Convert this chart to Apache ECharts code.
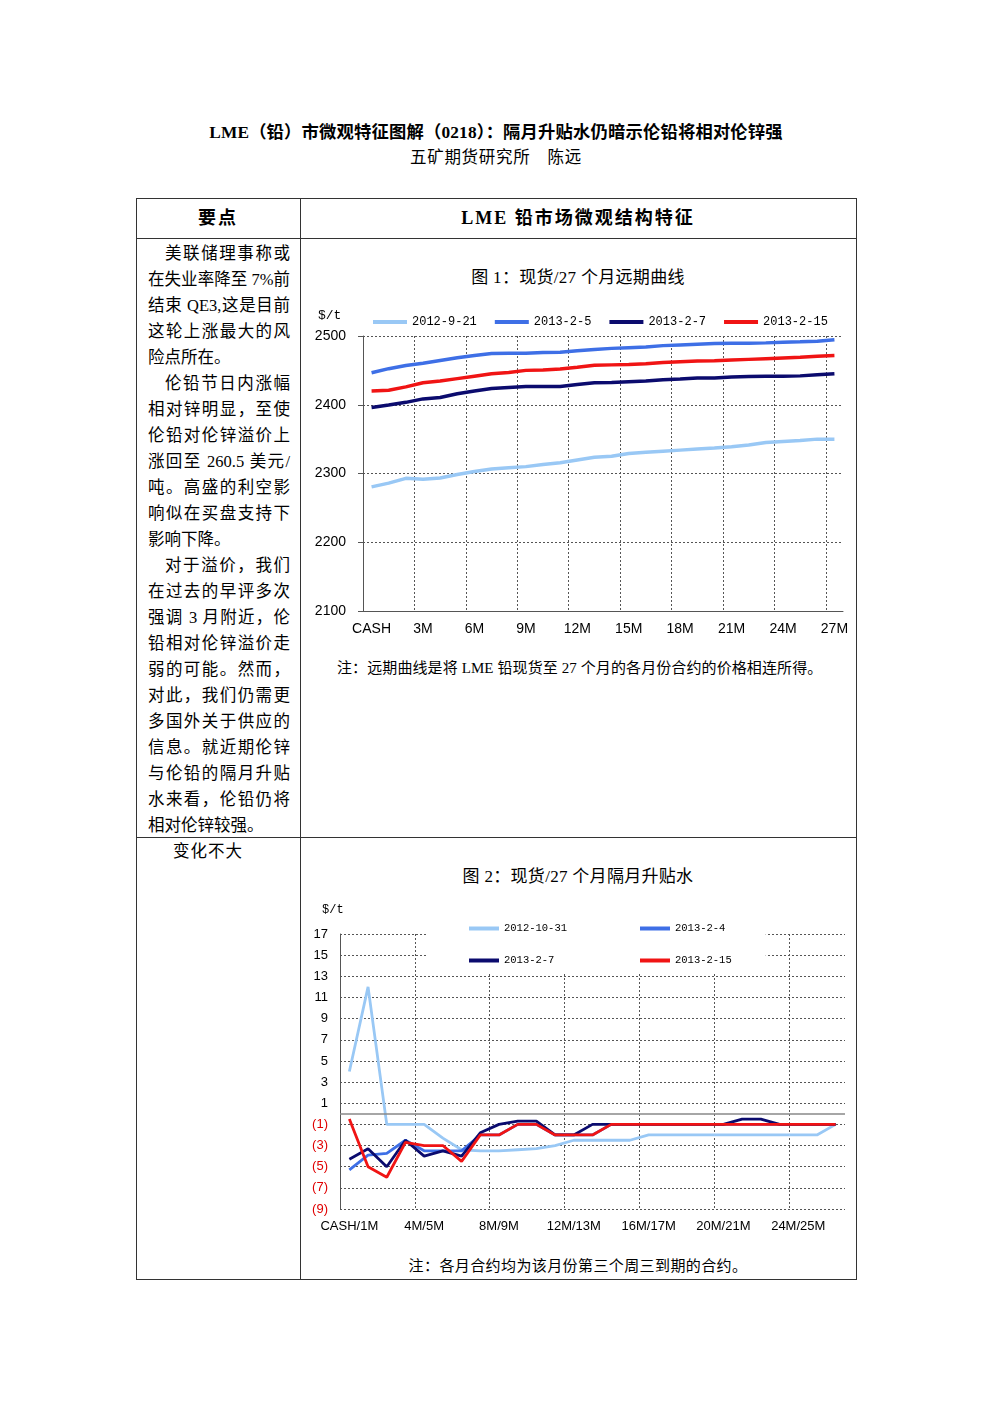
<!DOCTYPE html>
<html lang="zh">
  <head>
    <meta charset="UTF-8" />
    <script src="https://cdn.jsdelivr.net/npm/echarts@6/dist/echarts.min.js"></script>
    <title>LME 铅市场微观结构特征</title>
    <style>
      html,
      body {
        margin: 0;
        padding: 0;
        background: #fff;
      }
      #page {
        position: relative;
        width: 992px;
        height: 1403px;
        overflow: hidden;
        font-family: "Liberation Serif", "Noto Sans CJK SC", serif;
        color: #000;
      }
      .t {
        position: absolute;
        white-space: nowrap;
      }
      .box {
        position: absolute;
        background: #333;
      }
      .ln {
        width: 142px;
        height: 26px;
        line-height: 26px;
        font-size: 16.5px;
        text-align: justify;
        text-align-last: justify;
        white-space: nowrap;
      }
      .ln.first {
        text-indent: 17px;
      }
      .ln.end {
        text-align-last: left;
      }
      .chart {
        position: absolute;
        width: 556px;
        height: 350px;
      }
    </style>
  </head>
  <body>
    <div id="page">
      <div class="t" style="left:0;width:992px;top:122px;text-align:center;font-size:17.3px;letter-spacing:0.2px;font-weight:bold;line-height:22px;">
        LME（铅）市微观特征图解（0218）：隔月升贴水仍暗示伦铅将相对伦锌强
      </div>
      <div class="t" style="left:0;width:992px;top:147px;text-align:center;font-size:16.5px;letter-spacing:0.7px;line-height:22px;">
        五矿期货研究所　陈远
      </div>

      <!-- table frame -->
      <div class="box" style="left:136px;top:198px;width:720px;height:1px;"></div>
      <div class="box" style="left:136px;top:238px;width:720px;height:1px;"></div>
      <div class="box" style="left:136px;top:837px;width:720px;height:1px;"></div>
      <div class="box" style="left:136px;top:1279px;width:721px;height:1px;"></div>
      <div class="box" style="left:136px;top:198px;width:1px;height:1081px;"></div>
      <div class="box" style="left:300px;top:198px;width:1px;height:1081px;"></div>
      <div class="box" style="left:856px;top:198px;width:1px;height:1081px;"></div>

      <div class="t" style="left:136px;width:164px;top:206px;text-align:center;font-size:18px;font-weight:bold;letter-spacing:2px;line-height:24px;">要点</div>
      <div class="t" style="left:300px;width:556px;top:206px;text-align:center;font-size:18px;font-weight:bold;letter-spacing:2px;line-height:24px;">LME 铅市场微观结构特征</div>

      <div class="t" style="left:148px;top:241px;">
        <div class="ln first">美联储理事称或</div>
        <div class="ln">在失业率降至 7%前</div>
        <div class="ln">结束 QE3,这是目前</div>
        <div class="ln">这轮上涨最大的风</div>
        <div class="ln end">险点所在。</div>
        <div class="ln first">伦铅节日内涨幅</div>
        <div class="ln">相对锌明显，至使</div>
        <div class="ln">伦铅对伦锌溢价上</div>
        <div class="ln">涨回至 260.5 美元/</div>
        <div class="ln">吨。高盛的利空影</div>
        <div class="ln">响似在买盘支持下</div>
        <div class="ln end">影响下降。</div>
        <div class="ln first">对于溢价，我们</div>
        <div class="ln">在过去的早评多次</div>
        <div class="ln">强调 3 月附近，伦</div>
        <div class="ln">铅相对伦锌溢价走</div>
        <div class="ln">弱的可能。然而，</div>
        <div class="ln">对此，我们仍需更</div>
        <div class="ln">多国外关于供应的</div>
        <div class="ln">信息。就近期伦锌</div>
        <div class="ln">与伦铅的隔月升贴</div>
        <div class="ln">水来看，伦铅仍将</div>
        <div class="ln end">相对伦锌较强。</div>
      </div>
      <div class="t" style="left:173px;top:840px;font-size:16.5px;letter-spacing:1px;line-height:24px;">变化不大</div>

      <div class="t" style="left:300px;width:556px;top:267px;text-align:center;font-size:17px;letter-spacing:0.3px;line-height:22px;">图 1：现货/27 个月远期曲线</div>
      <div id="chart1" class="chart" style="left:300px;top:295px;"></div>
      <div class="t" style="left:337px;top:658px;font-size:15px;letter-spacing:0.1px;line-height:20px;">注：远期曲线是将 LME 铅现货至 27 个月的各月份合约的价格相连所得。</div>

      <div class="t" style="left:300px;width:556px;top:866px;text-align:center;font-size:17px;letter-spacing:0.3px;line-height:22px;">图 2：现货/27 个月隔月升贴水</div>
      <div id="chart2" class="chart" style="left:300px;top:895px;"></div>
      <div class="t" style="left:300px;width:556px;top:1256px;text-align:center;font-size:15px;letter-spacing:0.4px;line-height:20px;">注：各月合约均为该月份第三个周三到期的合约。</div>
    </div>

    <script>
      // 图1 远期曲线
      const fwdCats = [
        "CASH", "1M", "2M", "3M", "4M", "5M", "6M", "7M", "8M", "9M",
        "10M", "11M", "12M", "13M", "14M", "15M", "16M", "17M", "18M", "19M",
        "20M", "21M", "22M", "23M", "24M", "25M", "26M", "27M",
      ];
      const fwdNames = ["2012-9-21", "2013-2-5", "2013-2-7", "2013-2-15"];
      const fwd20120921 = [
        2280.5, 2286, 2293, 2291.5, 2293.5, 2298.5, 2303, 2306.5, 2308.5, 2310,
        2313, 2315.5, 2319.5, 2323.5, 2325, 2329, 2331, 2332.5, 2334, 2335.5,
        2337, 2339, 2341.5, 2345, 2346.5, 2348, 2350, 2350,
      ];
      const fwd20130205 = [
        2446.5, 2452.5, 2457, 2460.5, 2464.5, 2468.5, 2471.5, 2474.5, 2475, 2475,
        2476, 2476.5, 2478.5, 2480.5, 2482, 2483, 2484, 2486, 2487, 2488,
        2489, 2489.5, 2489.5, 2490, 2491, 2491.5, 2492.5, 2494.5,
      ];
      const fwd20130207 = [
        2396, 2399.5, 2403.5, 2408.5, 2410.5, 2416, 2420, 2423.5, 2425, 2426.5,
        2426.5, 2426.5, 2429.5, 2432, 2432.5, 2433.5, 2434.5, 2436.5, 2437.5, 2439,
        2439, 2440.5, 2441, 2441.5, 2441.5, 2442, 2443.5, 2445,
      ];
      const fwd20130215 = [
        2420, 2421, 2426, 2432, 2434.5, 2438, 2441.5, 2445, 2447, 2450,
        2450.5, 2452, 2454.5, 2457.5, 2458, 2458.5, 2459.5, 2461.5, 2462.5, 2463.5,
        2464, 2465, 2466, 2467, 2468, 2469, 2470.5, 2471.5,
      ];

      // 图2 隔月升贴水
      const sprCats = [
        "CASH/1M", "1M/2M", "2M/3M", "3M/4M", "4M/5M", "5M/6M", "6M/7M", "7M/8M", "8M/9M",
        "9M/10M", "10M/11M", "11M/12M", "12M/13M", "13M/14M", "14M/15M", "15M/16M", "16M/17M",
        "17M/18M", "18M/19M", "19M/20M", "20M/21M", "21M/22M", "22M/23M", "23M/24M", "24M/25M",
        "25M/26M", "26M/27M",
      ];
      const sprNames = ["2012-10-31", "2013-2-4", "2013-2-7", "2013-2-15"];
      const spr20121031 = [
        4, 12, -1, -1, -1, -2.3, -3.4, -3.5, -3.5, -3.4, -3.3, -3, -2.5, -2.5,
        -2.5, -2.5, -2, -2, -2, -2, -2, -2, -2, -2, -2, -2, -1,
      ];
      const spr20130204 = [
        -5.3, -3.9, -3.75, -2.5, -3.5, -3.5, -3.5, -2, -2, -1, -1, -2, -2, -2,
        -1, -1, -1, -1, -1, -1, -1, -1, -1, -1, -1, -1, -1,
      ];
      const spr20130207 = [
        -4.3, -3.3, -5, -2.5, -4, -3.5, -4, -1.8, -1, -0.7, -0.7, -2, -2, -1,
        -1, -1, -1, -1, -1, -1, -1, -0.5, -0.5, -1, -1, -1, -1,
      ];
      const spr20130215 = [
        -0.5, -5, -6, -2.7, -3, -3, -4.5, -2, -2, -1, -1, -2, -2, -2,
        -1, -1, -1, -1, -1, -1, -1, -1, -1, -1, -1, -1, -1,
      ];

      const colors = ["#99c8f5", "#3e6fe6", "#0b0b6e", "#f01414"];
      const axisFont = { fontFamily: "Liberation Sans", color: "#000" };
      const hidden = "rgba(0,0,0,0)";

      function gridLine() {
        return { color: "#555", width: 1, type: [2, 2] };
      }

      function lineSeries(name, data, i, width) {
        return {
          name: name,
          type: "line",
          data: data,
          showSymbol: false,
          symbol: "none",
          smooth: false,
          lineStyle: { color: colors[i], width: width },
          itemStyle: { color: colors[i] },
        };
      }

      const chart1 = echarts.init(document.getElementById("chart1"));
      chart1.setOption({
        animation: false,
        grid: { left: 63, right: 13, top: 41, bottom: 34 },
        graphic: [
          {
            type: "text",
            left: 18,
            top: 14,
            style: { text: "$/t", font: "13px 'Liberation Mono'", fill: "#000" },
          },
        ],
        legend: {
          left: 68,
          top: 16,
          icon: "rect",
          itemWidth: 34,
          itemHeight: 4,
          itemGap: 18,
          textStyle: { fontFamily: "Liberation Mono", fontSize: 12, color: "#000" },
          data: fwdNames,
        },
        xAxis: {
          type: "category",
          data: fwdCats,
          boundaryGap: true,
          axisLine: { lineStyle: { color: "#555", width: 1 } },
          axisTick: { interval: 2, length: 5, lineStyle: { color: "#555" } },
          axisLabel: Object.assign({ interval: 2, margin: 11, fontSize: 14 }, axisFont),
          splitLine: { show: true, interval: 2, showMaxLine: false, lineStyle: gridLine() },
        },
        yAxis: {
          type: "value",
          min: 2100,
          max: 2500,
          interval: 100,
          axisLine: { show: true, lineStyle: { color: "#555", width: 1 } },
          axisTick: { show: true, length: 5, lineStyle: { color: "#555" } },
          axisLabel: Object.assign(
            { margin: 17, fontSize: 14, formatter: (v) => String(v) },
            axisFont
          ),
          splitLine: { show: true, lineStyle: gridLine() },
        },
        series: [
          lineSeries(fwdNames[0], fwd20120921, 0, 3.5),
          lineSeries(fwdNames[1], fwd20130205, 1, 3.5),
          lineSeries(fwdNames[2], fwd20130207, 2, 3.5),
          lineSeries(fwdNames[3], fwd20130215, 3, 3.5),
        ],
      });

      const legendBase = {
        orient: "vertical",
        icon: "rect",
        itemWidth: 30,
        itemHeight: 4,
        itemGap: 21,
        top: 26,
        backgroundColor: "#fff",
        textStyle: { fontFamily: "Liberation Mono", fontSize: 10.5, color: "#000" },
      };

      const s1 = lineSeries(sprNames[0], spr20121031, 0, 2.8);
      s1.markLine = {
        silent: true,
        symbol: "none",
        label: { show: false },
        lineStyle: { color: "#888", width: 1.5, type: "solid" },
        data: [{ yAxis: 0 }],
      };

      const chart2 = echarts.init(document.getElementById("chart2"));
      chart2.setOption({
        animation: false,
        grid: { left: 40, right: 11, top: 39, bottom: 36 },
        graphic: [
          {
            type: "text",
            left: 22,
            top: 9,
            style: { text: "$/t", font: "12px 'Liberation Mono'", fill: "#000" },
          },
        ],
        legend: [
          Object.assign({}, legendBase, {
            left: 128,
            padding: [2, 70, 7, 41],
            data: [sprNames[0], sprNames[2]],
          }),
          Object.assign({}, legendBase, {
            left: 300,
            padding: [2, 34, 7, 40],
            data: [sprNames[1], sprNames[3]],
          }),
        ],
        xAxis: {
          type: "category",
          data: sprCats,
          boundaryGap: true,
          axisLine: { show: false },
          axisTick: { show: false },
          axisLabel: Object.assign({ interval: 3, margin: 11, fontSize: 13 }, axisFont),
          splitLine: { show: true, interval: 3, showMaxLine: false, lineStyle: gridLine() },
        },
        yAxis: {
          type: "value",
          min: -9,
          max: 17,
          interval: 1,
          axisLine: { show: true, lineStyle: { color: "#555", width: 1 } },
          axisTick: { show: false },
          axisLabel: Object.assign(
            {
              margin: 12,
              fontSize: 13,
              formatter: function (v) {
                if (v % 2 === 0) return "";
                return v < 0 ? "{n|(" + -v + ")}" : String(v);
              },
              rich: { n: { color: "#e00000", fontSize: 13, fontFamily: "Liberation Sans" } },
            },
            axisFont
          ),
          splitLine: {
            show: true,
            lineStyle: { color: ["#555", hidden], width: 1, type: [2, 2] },
          },
        },
        series: [
          s1,
          lineSeries(sprNames[1], spr20130204, 1, 2.8),
          lineSeries(sprNames[2], spr20130207, 2, 2.8),
          lineSeries(sprNames[3], spr20130215, 3, 2.8),
        ],
      });
    </script>
  </body>
</html>
